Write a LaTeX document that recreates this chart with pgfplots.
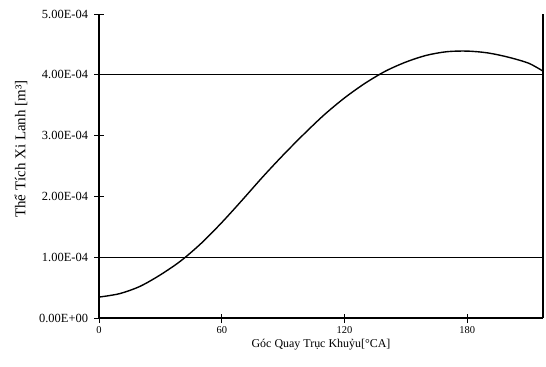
\documentclass[border=0pt]{standalone}
\usepackage{pgfplots}
\pgfplotsset{compat=1.18}
\usepackage{fontspec}
\setmainfont{Liberation Serif}
\begin{document}
\begin{tikzpicture}[x=1bp,y=1bp]
\begin{axis}[
  at={(0,0)}, anchor=south west,
  scale only axis, width=444bp, height=304bp,
  xmin=0, xmax=217, ymin=0, ymax=5e-4,
  axis x line*=bottom, axis y line*=left,
  axis line style={line width=1.1pt, -},
  xtick={0,60,120,180},
  xticklabels={0,60,120,180},
  ytick={0,1e-4,2e-4,3e-4,4e-4,5e-4},
  yticklabels={0.00E+00,1.00E-04,2.00E-04,3.00E-04,4.00E-04,5.00E-04},
  scaled y ticks=false,
  tick style={line width=1pt, black},
  major tick length=9bp,
  tick align=center,
  xticklabel style={font=\fontsize{10.5}{12}\selectfont, yshift=-1bp},
  yticklabel style={font=\fontsize{12.5}{14}\selectfont, xshift=-3bp},
  extra y ticks={1e-4,4e-4},
  extra y tick labels={},
  extra y tick style={grid=major, major grid style={line width=1.1pt, black}},
  xlabel={Góc Quay Trục Khuỷu[°CA]},
  ylabel={Thể Tích Xi Lanh [m³]},
  xlabel style={font=\fontsize{12}{14}\selectfont, yshift=2bp},
  ylabel style={font=\fontsize{15}{17}\selectfont, at={(ticklabel cs:0.556)}, yshift=-4bp},
  clip=false,
]
\addplot[black, line width=1.4pt, smooth] coordinates {
(0,3.44e-5) (10,4.0e-5) (20,5.2e-5) (30,7.1e-5) (40,9.4e-5)
(50,1.23e-4) (60,1.57e-4) (70,1.94e-4) (80,2.32e-4) (90,2.68e-4)
(100,3.02e-4) (110,3.34e-4) (120,3.62e-4) (130,3.86e-4) (140,4.06e-4)
(150,4.21e-4) (160,4.32e-4) (170,4.38e-4) (180,4.39e-4) (190,4.36e-4)
(200,4.29e-4) (210,4.19e-4) (217,4.06e-4)
};
\draw[line width=1.1pt] (rel axis cs:1,0) -- (rel axis cs:1,1);
\end{axis}
\path[use as bounding box] (-99,-48) rectangle (447,318);
\end{tikzpicture}
\end{document}
